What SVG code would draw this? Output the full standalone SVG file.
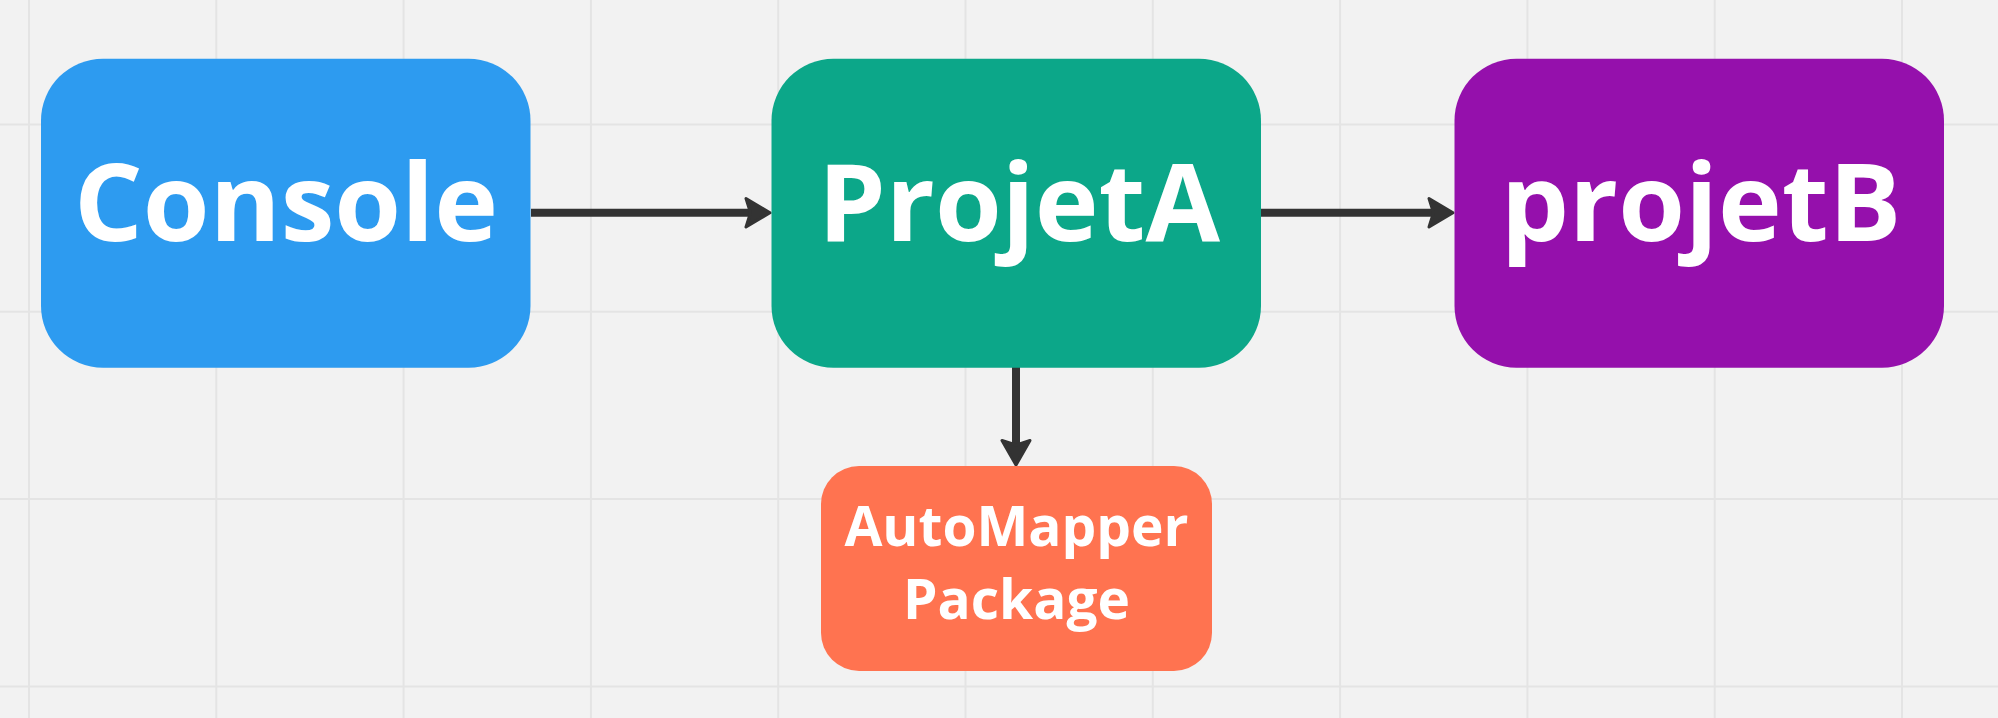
<svg xmlns="http://www.w3.org/2000/svg" width="1998" height="718" viewBox="0 0 1998 718">
  <style>
    .grid line { stroke: #e4e4e4; stroke-width: 2; }
    .label { font-family: "Open Sans", "Liberation Sans", sans-serif; font-weight: 700; fill: #ffffff; text-anchor: middle; }
    .big { font-size: 108px; }
    .small { font-size: 55px; }
    .conn line { stroke: #333333; stroke-width: 8; }
    .head { fill: #333333; stroke: #333333; stroke-width: 3; stroke-linejoin: round; }
  </style>
  <rect x="0" y="0" width="1998" height="718" fill="#f2f2f2"/>
  <g class="grid">
    <line x1="29" y1="0" x2="29" y2="718"/>
    <line x1="216.3" y1="0" x2="216.3" y2="718"/>
    <line x1="403.6" y1="0" x2="403.6" y2="718"/>
    <line x1="590.9" y1="0" x2="590.9" y2="718"/>
    <line x1="778.2" y1="0" x2="778.2" y2="718"/>
    <line x1="965.5" y1="0" x2="965.5" y2="718"/>
    <line x1="1152.8" y1="0" x2="1152.8" y2="718"/>
    <line x1="1340.1" y1="0" x2="1340.1" y2="718"/>
    <line x1="1527.4" y1="0" x2="1527.4" y2="718"/>
    <line x1="1714.7" y1="0" x2="1714.7" y2="718"/>
    <line x1="1902" y1="0" x2="1902" y2="718"/>
    <line x1="0" y1="124.5" x2="1998" y2="124.5"/>
    <line x1="0" y1="311.8" x2="1998" y2="311.8"/>
    <line x1="0" y1="499.1" x2="1998" y2="499.1"/>
    <line x1="0" y1="686.4" x2="1998" y2="686.4"/>
  </g>
  <g id="connectors" class="conn">
    <line x1="531" y1="212.8" x2="752" y2="212.8"/>
    <path class="head" d="M770 212.8 L746 198.5 L750.5 212.8 L746 227 Z"/>
    <line x1="1261" y1="212.8" x2="1435" y2="212.8"/>
    <path class="head" d="M1453 212.8 L1429 198.5 L1433.5 212.8 L1429 227 Z"/>
    <line x1="1016" y1="367" x2="1016" y2="448"/>
    <path class="head" d="M1016 465 L1002 440.5 L1016 445 L1030 440.5 Z"/>
  </g>
  <g id="node-console">
    <rect x="41" y="58.7" width="489.5" height="309" rx="62" ry="62" fill="#2d9bf0"/>
    <text class="label big" x="286" y="241">Console</text>
  </g>
  <g id="node-projetA">
    <rect x="771.5" y="58.7" width="489.5" height="309" rx="62" ry="62" fill="#0ca789"/>
    <text class="label big" x="1019" y="241">ProjetA</text>
  </g>
  <g id="node-projetB">
    <rect x="1454.5" y="58.7" width="489.5" height="309" rx="62" ry="62" fill="#9510ac"/>
    <text class="label big" x="1701" y="241">projetB</text>
  </g>
  <g id="node-automapper">
    <rect x="821" y="466" width="391" height="205" rx="38" ry="38" fill="#ff7350"/>
    <text class="label small" x="1016.5" y="546">AutoMapper</text>
    <text class="label small" x="1016.5" y="618.7">Package</text>
  </g>
</svg>
